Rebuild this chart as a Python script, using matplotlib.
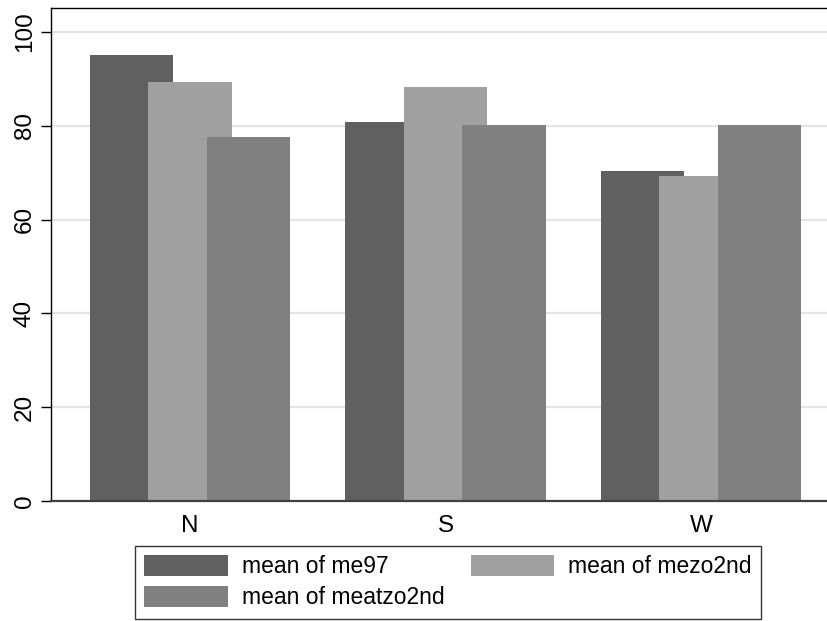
import numpy as np
import matplotlib.pyplot as plt

plt.rcParams['font.family'] = ['Liberation Sans', 'DejaVu Sans']

# regions and group means
regions = ['N', 'S', 'W']
me97 = [95.1, 80.8, 70.4]
mezo2nd = [89.3, 88.3, 69.3]
meatzo2nd = [77.6, 80.2, 80.2]
yticks = [0, 20, 40, 60, 80, 100]

series = [('mean of me97', me97, '#606060'),
          ('mean of mezo2nd', mezo2nd, '#a0a0a0'),
          ('mean of meatzo2nd', meatzo2nd, '#808080')]

fig = plt.figure(figsize=(8.28, 6.21), dpi=100)
# plot region runs past the right edge, like the original export
ax = fig.add_axes([51 / 828, 120 / 621, 1.0, 493 / 621])

x = np.arange(len(regions))
width = 0.325
step = 0.229
handles = []
for k, (name, vals, col) in enumerate(series):
    h = ax.bar(x + (k - 1) * step, vals, width, color=col, label=name, zorder=2 + k)
    handles.append(h)

ax.set_xlim(-0.544, -0.544 + 828 / 255.5)
ax.set_ylim(0, 105.1)
ax.set_yticks(yticks)
ax.set_yticklabels([str(v) for v in yticks], rotation=90, va='center', fontsize=17.5)
ax.set_xticks(x)
ax.set_xticklabels(regions, fontsize=17.5)
ax.tick_params(axis='x', length=0, pad=10)
ax.tick_params(axis='y', length=7, width=1, pad=4)
ax.yaxis.grid(True, color='#e4e4e4', linewidth=1.6, zorder=0)
ax.set_axisbelow(True)
for s in ['top', 'left']:
    ax.spines[s].set_color('black')
    ax.spines[s].set_linewidth(1.0)
ax.spines['bottom'].set_color('#404040')
ax.spines['bottom'].set_linewidth(1.6)
ax.spines['bottom'].set_zorder(10)

# legend filled row-wise like the original
order = [handles[0], handles[2], handles[1]]
leg = fig.legend(order, [h.get_label() for h in order], ncol=2,
                 loc='upper left', bbox_to_anchor=(135 / 828, 1 - 546 / 621),
                 fontsize=16.5, frameon=True, fancybox=False, edgecolor='black',
                 handlelength=3.65, handleheight=1.0, columnspacing=1.15,
                 handletextpad=0.6, borderpad=0.4, labelspacing=0.35,
                 borderaxespad=0)
leg.get_frame().set_linewidth(1.0)

fig.savefig('out.png', dpi=100)
